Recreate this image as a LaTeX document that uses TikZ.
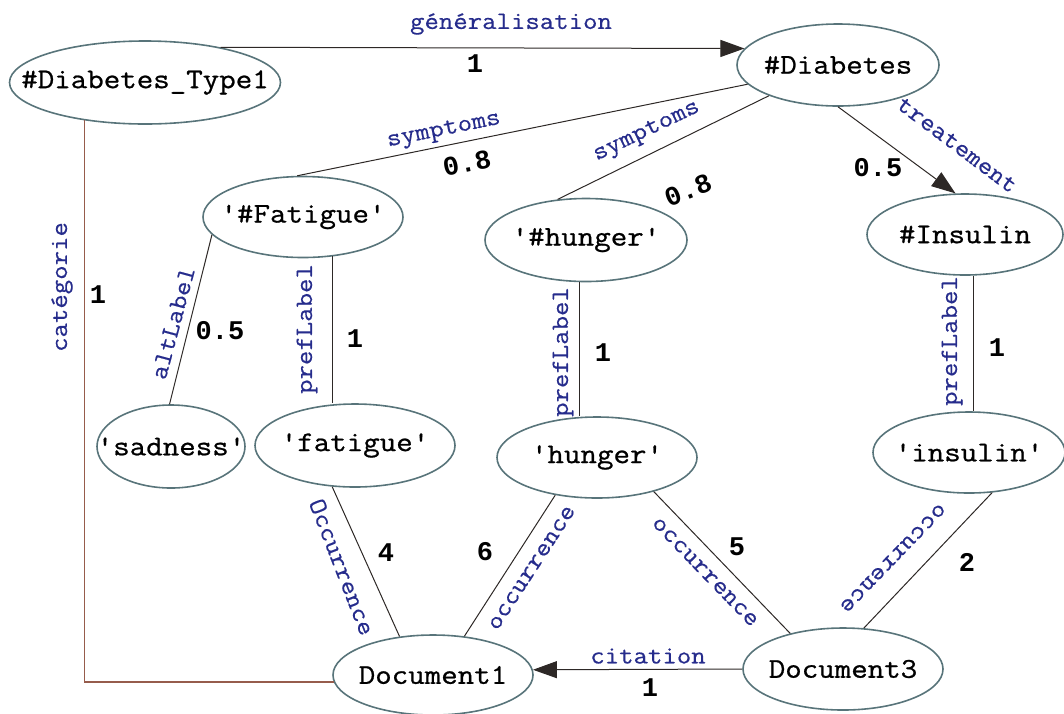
\documentclass[tikz,border=0pt]{standalone}
\usepackage{fontspec}
\newfontfamily\typefont{Latin Modern Mono}[FakeStretch=1.12, FakeBold=0.8]
\newfontfamily\relfont{Latin Modern Mono}[FakeStretch=1.12, FakeBold=0.5]
\newfontfamily\weightfont{Liberation Mono}[BoldFont={Liberation Mono Bold}]
\usetikzlibrary{shapes.geometric,arrows.meta}
\definecolor{ringcol}{RGB}{88,116,122}
\definecolor{edgecol}{RGB}{45,40,38}
\definecolor{catcol}{RGB}{150,92,76}
\definecolor{relcol}{RGB}{38,44,140}
% text that does not widen its ellipse
\newcommand\ctext[1]{\makebox[0pt]{#1}}

\begin{document}
\begin{tikzpicture}[x=1pt,y=-1pt,
  concept/.style={ellipse, draw=ringcol, line width=1.6pt, inner sep=0pt,
    font=\typefont\fontsize{28.6}{30}\selectfont, text=black},
  link/.style={draw=edgecol, line width=1pt},
  catlink/.style={draw=catcol, line width=1.2pt},
  relname/.style={font=\relfont\fontsize{25}{26}\selectfont, text=relcol, inner sep=0pt},
  weight/.style={font=\weightfont\bfseries\fontsize{27}{28}\selectfont, inner sep=0pt},
  tip/.style={-{Triangle[length=24pt,width=17pt]}}
]
\useasboundingbox (0,0) rectangle (1064,713);

% concepts
\node[concept, minimum width=271pt, minimum height=83pt] (t1) at (145,82.5) {\ctext{\#Diabetes\_Type1}};
\node[concept, minimum width=202pt, minimum height=82pt] (d)  at (838,65)   {\ctext{\#Diabetes}};
\node[concept, minimum width=200pt, minimum height=81pt] (fa) at (303,217)  {\ctext{'\#Fatigue'}};
\node[concept, minimum width=202pt, minimum height=83pt] (hh) at (586,240)  {\ctext{'\#hunger'}};
\node[concept, minimum width=196pt, minimum height=81pt] (in) at (965,234.5){\ctext{\#Insulin}};

% labels
\node[concept, minimum width=148pt, minimum height=83pt] (sa) at (171,446.5){\ctext{'sadness'}};
\node[concept, minimum width=200pt, minimum height=83pt] (ft) at (355,445.5){\ctext{'fatigue'}};
\node[concept, minimum width=200pt, minimum height=81pt] (hw) at (597,457.5){\ctext{'hunger'}};
\node[concept, minimum width=192pt, minimum height=81pt] (iw) at (969,452.5){\ctext{'insulin'}};

% documents
\node[concept, minimum width=200pt, minimum height=80pt] (d1) at (433,675)  {\ctext{Document1}};
\node[concept, minimum width=200pt, minimum height=82pt] (d3) at (843,669)  {\ctext{Document3}};

% relations
\draw[link,tip] (t1.25.6) -- (d.170);
\draw[link] (d.192) -- (fa.98.3);
\draw[link] (d.204.9) -- (hh.125.3);
\draw[link,tip] (d.south) -- (in.103.5);
\draw[link] (fa.191.6) -- (sa.92.8);
\draw[link] (fa.-53.2) -- (fa.-53.2 |- ft.north);
\draw[link] (hh.261.8) -- (hh.261.8 |- hw.north);
\draw[link] (in.-78.8) -- (in.-78.8 |- iw.north);
\draw[catlink] (t1.212.4) |- (d1.184.1);
\draw[link] (ft.241.5) -- (d1.131.7);
\draw[link] (hw.222) -- (d1.51.9);
\draw[link] (hw.-31.6) -- (d3.146.7);
\draw[link] (iw.-60.8) -- (d3.63.5);
\draw[link,tip] (d3.180) -- (d1.3);

% relation names
\node[relname] (lgen) at (511,24) {généralisation};
\node[relname, rotate=11.5] (lsymf) at (444,131) {symptoms};
\node[relname, rotate=25.7] (lsymh) at (647,132) {symptoms};
\node[relname, rotate=-37] (ltreat) at (957,145) {treatement};
\node[relname, rotate=75] (lalt) at (173,323) {altLabel};
\node[relname, rotate=90] (lpreff) at (307,329) {prefLabel};
\node[relname, rotate=90] (lprefh) at (563,352) {prefLabel};
\node[relname, rotate=90] (lprefi) at (952,341) {prefLabel};
\node[relname, rotate=90] (lcat) at (62,287) {catégorie};
\node[relname, rotate=-68.7] (loccf) at (342,567) {Occurrence};
\node[relname, rotate=57] (locch) at (532,568) {occurrence};
\node[relname, rotate=-46] (loccg) at (705,572) {occurrence};
\node[relname, rotate=-134] (locci) at (893,558) {occurrence};
\node[relname] (lcit) at (648,656) {citation};

% weights
\node[weight] (wgen) at (475,64) {1};
\node[weight, rotate=11.5] (wsymf) at (467,163) {0.8};
\node[weight, rotate=22] (wsymh) at (688,190) {0.8};
\node[weight] (wtreat) at (878,168) {0.5};
\node[weight] (walt) at (220,331) {0.5};
\node[weight] (wpreff) at (355,339) {1};
\node[weight] (wprefh) at (603,353) {1};
\node[weight] (wprefi) at (997,348) {1};
\node[weight] (wcat) at (98,295) {1};
\node[weight] (woccf) at (386,553) {4};
\node[weight] (wocch) at (485,552) {6};
\node[weight] (woccg) at (737,547) {5};
\node[weight] (wocci) at (967,562) {2};
\node[weight] (wcit) at (650,688) {1};
\end{tikzpicture}
\end{document}
